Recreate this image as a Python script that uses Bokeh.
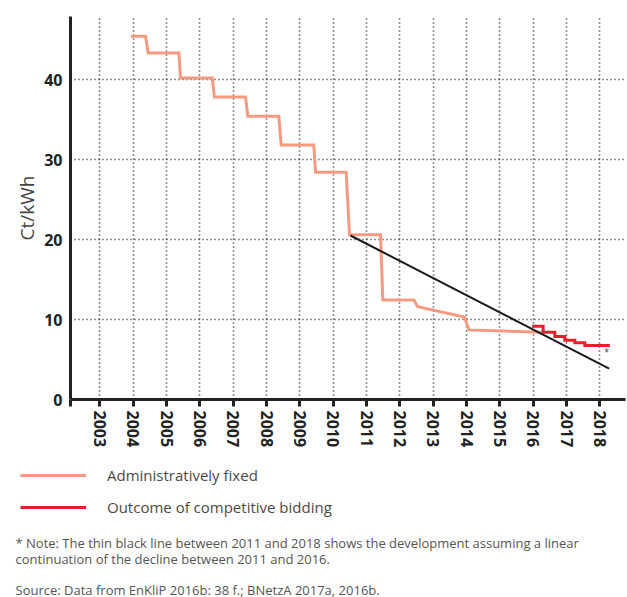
from bokeh.plotting import figure
from bokeh.models import Range1d, FixedTicker, Legend, LegendItem, Label, ColumnDataSource
from bokeh.layouts import column
from bokeh.embed import file_html
from bokeh.resources import INLINE

# ---- data ----
years = list(range(2003, 2019))
y_ticks = [0, 10, 20, 30, 40]

# administratively fixed tariff (ct/kWh), vertices of the step line
admin_x = [2003.93, 2004.37, 2004.45, 2005.37, 2005.42, 2006.37, 2006.44, 2007.37, 2007.44,
           2008.37, 2008.44, 2009.42, 2009.47, 2010.39, 2010.49, 2011.42, 2011.49, 2012.42,
           2012.54, 2013.94, 2014.07, 2016.30]
admin_y = [45.4, 45.4, 43.3, 43.3, 40.2, 40.2, 37.8, 37.8, 35.4,
           35.4, 31.8, 31.8, 28.4, 28.4, 20.6, 20.6, 12.45, 12.45,
           11.6, 10.3, 8.7, 8.4]

# outcome of competitive bidding (ct/kWh), step values
bid_x = [2015.97, 2016.30, 2016.65, 2016.95, 2017.25, 2017.55, 2018.30]
bid_y = [9.17, 8.40, 7.87, 7.40, 7.10, 6.75, 6.75]

# linear continuation of the decline 2011-2016
trend_x = [2010.52, 2018.28]
trend_y = [20.5, 3.85]

star_x = [2018.2]
star_y = [5.8]

FONT = "Open Sans"
SALMON = "#F59A80"
RED = "#E3202B"
DARK = "#222222"

x_lo, x_hi = 2002.12, 2018.77

p = figure(width=627, height=460, output_backend="svg", toolbar_location=None,
           x_range=Range1d(x_lo, x_hi), y_range=Range1d(0, 47.875),
           min_border_left=70, min_border_right=2, min_border_top=16, min_border_bottom=61)
p.outline_line_color = None
p.background_fill_color = "white"
p.border_fill_color = "white"

# grid
p.xgrid.ticker = FixedTicker(ticks=years)
p.ygrid.ticker = FixedTicker(ticks=y_ticks[1:])
for g in (p.xgrid, p.ygrid):
    g.grid_line_color = DARK
    g.grid_line_width = 1.6
    g.grid_line_dash = "1 3"

# x axis
xa = p.xaxis[0]
xa.ticker = FixedTicker(ticks=[x_lo + 0.001] + years)
xa.major_label_overrides = {x_lo + 0.001: ""}
xa.axis_line_width = 3
xa.axis_line_color = DARK
xa.major_tick_line_width = 3
xa.major_tick_line_color = DARK
xa.major_tick_out = 7
xa.major_tick_in = 0
xa.minor_tick_line_color = None
xa.major_label_orientation = "vertical"
xa.major_label_text_font = FONT
xa.major_label_text_font_style = "bold"
xa.major_label_text_font_size = "16px"
xa.major_label_text_color = DARK
xa.major_label_standoff = 4

# y axis
ya = p.yaxis[0]
ya.ticker = FixedTicker(ticks=y_ticks)
ya.axis_line_width = 3
ya.axis_line_color = DARK
ya.major_tick_line_color = None
ya.major_tick_out = 0
ya.major_tick_in = 0
ya.minor_tick_line_color = None
ya.minor_tick_out = 0
ya.major_label_text_font = FONT
ya.major_label_text_font_style = "bold"
ya.major_label_text_font_size = "16px"
ya.major_label_text_color = DARK
ya.major_label_standoff = 8
ya.axis_label = "Ct/kWh"
ya.axis_label_text_font = FONT
ya.axis_label_text_font_style = "normal"
ya.axis_label_text_font_size = "19px"
ya.axis_label_text_color = "#444444"
ya.axis_label_standoff = 1

# data
p.line(admin_x, admin_y, line_color=SALMON, line_width=3, line_join="miter")
p.step(bid_x, bid_y, mode="after", line_color=RED, line_width=3, line_join="miter")
p.line(trend_x, trend_y, line_color="#1a1a1a", line_width=2)
p.text(star_x, star_y, text=["*"], text_font_size="12px", text_color="#555555",
       text_align="center", text_baseline="middle")

# ---- legend and notes (own figure, frame spans the full width) ----
H2 = 137
q = figure(width=627, height=H2, output_backend="svg", toolbar_location=None,
           x_range=Range1d(0, 627), y_range=Range1d(H2, 0),
           x_axis_location=None, y_axis_location=None,
           min_border=0, min_border_left=0, min_border_right=0,
           min_border_top=0, min_border_bottom=0)
q.grid.visible = False
q.outline_line_color = None
if hasattr(q, "frame_align"):
    q.frame_align = False
    p.frame_align = False

# swatch renderers: data lies outside the visible range so only the legend shows them
swatch = ColumnDataSource(data=dict(x=[-100, -90], y=[-100, -100]))
r1 = q.line("x", "y", source=swatch, line_color=SALMON, line_width=3)
r2 = q.line("x", "y", source=swatch, line_color=RED, line_width=3)
leg = Legend(items=[LegendItem(label="Administratively fixed", renderers=[r1]),
                    LegendItem(label="Outcome of competitive bidding", renderers=[r2])],
             location=(20, H2 - 57), orientation="vertical",
             glyph_width=66, glyph_height=20, label_height=20, spacing=12,
             label_standoff=21, padding=0, margin=0,
             border_line_color=None, background_fill_alpha=0,
             label_text_font=FONT, label_text_font_size="15px", label_text_color="#4a4a4a")
q.add_layout(leg)

notes = [
    (82, "* Note: The thin black line between 2011 and 2018 shows the development assuming a linear"),
    (98, "continuation of the decline between 2011 and 2016."),
    (129, "Source: Data from EnKliP 2016b: 38 f.; BNetzA 2017a, 2016b."),
]
for yy, t in notes:
    q.add_layout(Label(x=15, y=yy, text=t, text_font=FONT, text_font_size="13px",
                       text_color="#555555", text_baseline="middle", text_align="left"))

layout = column(p, q, spacing=0)
open("out.html", "w").write(file_html(layout, INLINE))
